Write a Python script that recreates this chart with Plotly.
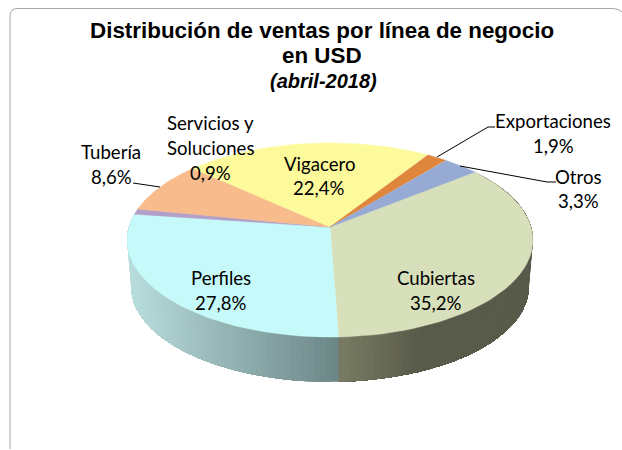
import numpy as np
import plotly.graph_objects as go

# ---- data (clockwise from the back-right edge of Cubiertas)
labels = ["Cubiertas", "Perfiles", "Servicios y<br>Soluciones", "Tubería", "Vigacero", "Exportaciones", "Otros"]
values = [35.2, 27.8, 0.9, 8.6, 22.4, 1.9, 3.3]
top_colors = ["#D7E0BB", "#C6FAFA", "#B2A0C8", "#F7BB8C", "#FCFA9B", "#DE873C", "#96AAD4"]

title_lines = ["Distribución de ventas por línea de negocio", "en USD"]
subtitle = "(abril-2018)"

# ---- styles / placement (pixels of the 622x450 page)
W, H = 622, 450
CX, CY = 330.0, 227.0          # apex
A, B, K = 201.0, 95.3, 0.134   # perspective ellipse
START_DEG = 51.3
DEPTH, SHRINK = 47.0, 0.98
# wall gradient: (left colour, right colour, width in px over which it runs; None = whole slice)
wall_grad = {0: ((122, 125, 100), (88, 90, 74), 85.0), 1: ((186, 222, 222), (108, 134, 134), None)}
label_pos = {
    "Cubiertas": (436, 278), "Perfiles": (221, 278), "Servicios y<br>Soluciones": (210, 123),
    "Tubería": (111, 152), "Vigacero": (319, 164), "Exportaciones": (553, 121), "Otros": (578, 177),
}
pct_pos = {
    "Cubiertas": (436, 303), "Perfiles": (221, 303), "Servicios y<br>Soluciones": (210, 173),
    "Tubería": (111, 177), "Vigacero": (319, 188), "Exportaciones": (553, 146), "Otros": (578, 201),
}
leaders = [
    ((133, 160), (183, 187)),
    ((437, 488, 495), (157, 127, 127)),
    ((460, 547, 556), (166, 182, 182)),
]


def rim(theta):
    s, c = np.sin(theta), np.cos(theta)
    d = 1 + K * c
    return A * s / d, -B * c / d


vals = np.array(values)
edges = np.radians(START_DEG + np.concatenate([[0], np.cumsum(vals) / vals.sum() * 360]))

fig = go.Figure()

# side wall: thin gradient strips; each strip runs to the far end of the slice,
# and the next one paints over it, so no seams can appear between strips
for i in wall_grad:
    n = max(int(np.degrees(edges[i + 1] - edges[i]) / 1.5), 2)
    t = np.linspace(edges[i], edges[i + 1], n + 1)
    rx, ry = rim(t)
    xs_top, ys_top = CX + rx, CY + ry
    xs_bot, ys_bot = CX + rx * SHRINK, CY + ry * SHRINK + DEPTH
    x_lo, x_hi = xs_top.min(), xs_top.max()
    c0, c1, span = wall_grad[i]
    c0, c1 = np.array(c0), np.array(c1)
    span = span or (x_hi - x_lo)
    for j in range(n):
        xm = (xs_top[j] + xs_top[j + 1]) / 2
        f = min(1.0, (xm - x_lo) / span)
        colstr = "rgb(%d,%d,%d)" % tuple(c0 + (c1 - c0) * f)
        fig.add_trace(go.Scatter(
            x=np.concatenate([xs_top[j:], xs_bot[j:][::-1], xs_top[j:j + 1]]),
            y=np.concatenate([ys_top[j:], ys_bot[j:][::-1], ys_top[j:j + 1]]),
            mode="none", fill="toself", fillcolor=colstr,
            hoverinfo="skip", showlegend=False))

# top face
for i, lab in enumerate(labels):
    t = np.linspace(edges[i], edges[i + 1], 60)
    rx, ry = rim(t)
    fig.add_trace(go.Scatter(
        x=np.concatenate([[CX], CX + rx, [CX]]),
        y=np.concatenate([[CY], CY + ry, [CY]]),
        mode="lines", fill="toself", fillcolor=top_colors[i],
        line=dict(color=top_colors[i], width=0.5),
        name=lab.replace("<br>", " "), text=f"{values[i]}%", hoverinfo="name+text", showlegend=False))

# leader lines
for lx, ly in leaders:
    fig.add_trace(go.Scatter(x=lx, y=ly, mode="lines", line=dict(color="#000000", width=1),
                             hoverinfo="skip", showlegend=False))

LF = dict(family="Lato, Carlito, sans-serif", size=18.6, color="#000000")
ann = []
for i, lab in enumerate(labels):
    parts = lab.split("<br>")
    px, py = label_pos[lab]
    for k, part in enumerate(parts):
        ann.append(dict(x=px, y=py + 25 * k, text=part, showarrow=False, font=LF,
                        xanchor="center", yanchor="middle"))
    qx, qy = pct_pos[lab]
    ann.append(dict(x=qx, y=qy, text=f"{values[i]:.1f}%".replace(".", ","), showarrow=False, font=LF,
                    xanchor="center", yanchor="middle"))

TF = dict(family="Liberation Sans, Arial, sans-serif", size=22.4, color="#000000")
ann.append(dict(x=322, y=30, text=f"<b>{title_lines[0]}</b>", showarrow=False, font=TF, xanchor="center", yanchor="middle"))
ann.append(dict(x=322, y=55, text=f"<b>{title_lines[1]}</b>", showarrow=False, font=TF, xanchor="center", yanchor="middle"))
ann.append(dict(x=323, y=81, text=f"<b><i>{subtitle}</i></b>", showarrow=False,
                font=dict(family="Liberation Sans, Arial, sans-serif", size=20, color="#000000"),
                xanchor="center", yanchor="middle"))

frame = "M 10 449 L 10 16 Q 10 8.5 18 8.5 L 612 8.5 Q 619 8.5 622 12"
fig.update_layout(
    width=W, height=H, margin=dict(l=0, r=0, t=0, b=0),
    paper_bgcolor="white", plot_bgcolor="white", showlegend=False,
    xaxis=dict(range=[0, W], visible=False, fixedrange=True),
    yaxis=dict(range=[H, 0], visible=False, fixedrange=True),
    annotations=ann,
    shapes=[dict(type="path", path=frame, xref="x", yref="y", line=dict(color="#A6A6A6", width=1))],
)
fig.write_html("out.html", config=dict(displayModeBar=False),
               post_script="document.body.style.margin='0';document.body.style.overflow='hidden';")
